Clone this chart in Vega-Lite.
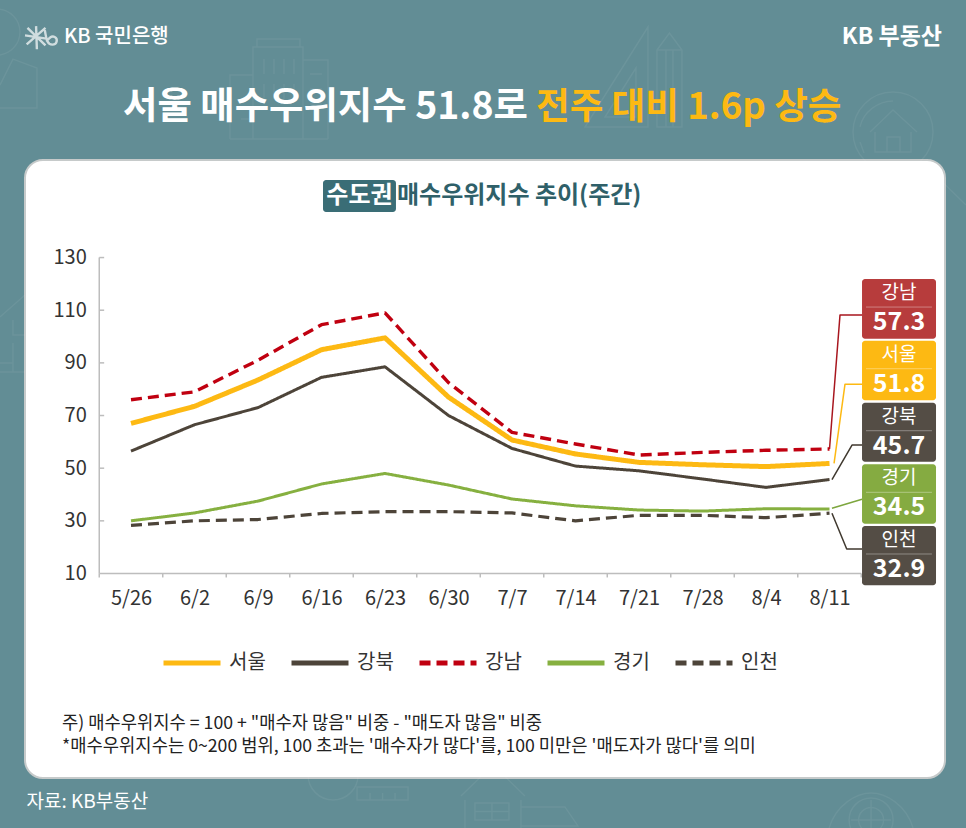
{
  "$schema": "https://vega.github.io/schema/vega-lite/v6.json",
  "description": "Weekly buyer superiority index for the Seoul metropolitan area.",
  "width": 920,
  "height": 618,
  "autosize": {"type": "none"},
  "padding": {"left": 25, "top": 160, "right": 21, "bottom": 50},
  "background": "#628d95",
  "view": {"fill": "#ffffff", "stroke": "#c6caca", "strokeWidth": 2, "cornerRadius": 18},
  "config": {"font": "Noto Sans CJK KR"},
  "datasets": {
    "weekly": [
      {"date": "2025-05-26T00:00", "region": "서울", "value": 67},
      {"date": "2025-06-02T00:00", "region": "서울", "value": 73.5},
      {"date": "2025-06-09T00:00", "region": "서울", "value": 83.5},
      {"date": "2025-06-16T00:00", "region": "서울", "value": 95},
      {"date": "2025-06-23T00:00", "region": "서울", "value": 99.5},
      {"date": "2025-06-30T00:00", "region": "서울", "value": 77},
      {"date": "2025-07-07T00:00", "region": "서울", "value": 60.7},
      {"date": "2025-07-14T00:00", "region": "서울", "value": 55.4},
      {"date": "2025-07-21T00:00", "region": "서울", "value": 52.2},
      {"date": "2025-07-28T00:00", "region": "서울", "value": 51.3},
      {"date": "2025-08-04T00:00", "region": "서울", "value": 50.6},
      {"date": "2025-08-11T00:00", "region": "서울", "value": 51.8},
      {"date": "2025-05-26T00:00", "region": "강북", "value": 56.5},
      {"date": "2025-06-02T00:00", "region": "강북", "value": 66.5},
      {"date": "2025-06-09T00:00", "region": "강북", "value": 73},
      {"date": "2025-06-16T00:00", "region": "강북", "value": 84.5},
      {"date": "2025-06-23T00:00", "region": "강북", "value": 88.5},
      {"date": "2025-06-30T00:00", "region": "강북", "value": 70},
      {"date": "2025-07-07T00:00", "region": "강북", "value": 57.5},
      {"date": "2025-07-14T00:00", "region": "강북", "value": 50.8},
      {"date": "2025-07-21T00:00", "region": "강북", "value": 49},
      {"date": "2025-07-28T00:00", "region": "강북", "value": 45.9},
      {"date": "2025-08-04T00:00", "region": "강북", "value": 42.7},
      {"date": "2025-08-11T00:00", "region": "강북", "value": 45.7},
      {"date": "2025-05-26T00:00", "region": "강남", "value": 76},
      {"date": "2025-06-02T00:00", "region": "강남", "value": 79},
      {"date": "2025-06-09T00:00", "region": "강남", "value": 91},
      {"date": "2025-06-16T00:00", "region": "강남", "value": 104.5},
      {"date": "2025-06-23T00:00", "region": "강남", "value": 109},
      {"date": "2025-06-30T00:00", "region": "강남", "value": 82.5},
      {"date": "2025-07-07T00:00", "region": "강남", "value": 63.6},
      {"date": "2025-07-14T00:00", "region": "강남", "value": 59.2},
      {"date": "2025-07-21T00:00", "region": "강남", "value": 55},
      {"date": "2025-07-28T00:00", "region": "강남", "value": 56},
      {"date": "2025-08-04T00:00", "region": "강남", "value": 56.8},
      {"date": "2025-08-11T00:00", "region": "강남", "value": 57.3},
      {"date": "2025-05-26T00:00", "region": "경기", "value": 30},
      {"date": "2025-06-02T00:00", "region": "경기", "value": 33},
      {"date": "2025-06-09T00:00", "region": "경기", "value": 37.5},
      {"date": "2025-06-16T00:00", "region": "경기", "value": 44},
      {"date": "2025-06-23T00:00", "region": "경기", "value": 48},
      {"date": "2025-06-30T00:00", "region": "경기", "value": 43.6},
      {"date": "2025-07-07T00:00", "region": "경기", "value": 38.3},
      {"date": "2025-07-14T00:00", "region": "경기", "value": 35.7},
      {"date": "2025-07-21T00:00", "region": "경기", "value": 34.1},
      {"date": "2025-07-28T00:00", "region": "경기", "value": 33.7},
      {"date": "2025-08-04T00:00", "region": "경기", "value": 34.6},
      {"date": "2025-08-11T00:00", "region": "경기", "value": 34.5},
      {"date": "2025-05-26T00:00", "region": "인천", "value": 28.3},
      {"date": "2025-06-02T00:00", "region": "인천", "value": 30},
      {"date": "2025-06-09T00:00", "region": "인천", "value": 30.5},
      {"date": "2025-06-16T00:00", "region": "인천", "value": 32.8},
      {"date": "2025-06-23T00:00", "region": "인천", "value": 33.5},
      {"date": "2025-06-30T00:00", "region": "인천", "value": 33.5},
      {"date": "2025-07-07T00:00", "region": "인천", "value": 33},
      {"date": "2025-07-14T00:00", "region": "인천", "value": 30},
      {"date": "2025-07-21T00:00", "region": "인천", "value": 32.1},
      {"date": "2025-07-28T00:00", "region": "인천", "value": 32.1},
      {"date": "2025-08-04T00:00", "region": "인천", "value": 31.2},
      {"date": "2025-08-11T00:00", "region": "인천", "value": 32.9}
    ],
    "leaders": [
      {"region": "강남", "step": 1, "date": "2025-08-11T00:00", "value": 57.3},
      {"region": "강남", "step": 2, "date": "2025-08-12T03:45", "value": 108.2},
      {"region": "강남", "step": 3, "date": "2025-08-14T14:00", "value": 108.2},
      {"region": "서울", "step": 1, "date": "2025-08-11T12:00", "value": 51.8},
      {"region": "서울", "step": 2, "date": "2025-08-12T17:00", "value": 81.9},
      {"region": "서울", "step": 3, "date": "2025-08-14T14:00", "value": 81.9},
      {"region": "강북", "step": 1, "date": "2025-08-11T06:30", "value": 45.7},
      {"region": "강북", "step": 2, "date": "2025-08-13T11:30", "value": 58.8},
      {"region": "강북", "step": 3, "date": "2025-08-14T14:00", "value": 58.8},
      {"region": "경기", "step": 1, "date": "2025-08-11T06:30", "value": 34.8},
      {"region": "경기", "step": 2, "date": "2025-08-14T14:00", "value": 38.2},
      {"region": "인천", "step": 1, "date": "2025-08-11T06:30", "value": 32.9},
      {"region": "인천", "step": 2, "date": "2025-08-12T21:30", "value": 19.3},
      {"region": "인천", "step": 3, "date": "2025-08-14T14:00", "value": 19.3}
    ],
    "calloutBoxes": [
      {"region": "강남", "date": "2025-08-14T14:00", "end": "2025-08-22T17:45", "value": 121.85, "value2": 99.18},
      {"region": "서울", "date": "2025-08-14T14:00", "end": "2025-08-22T17:45", "value": 98.42, "value2": 75.78},
      {"region": "강북", "date": "2025-08-14T14:00", "end": "2025-08-22T17:45", "value": 74.87, "value2": 52.46},
      {"region": "경기", "date": "2025-08-14T14:00", "end": "2025-08-22T17:45", "value": 51.47, "value2": 28.91},
      {"region": "인천", "date": "2025-08-14T14:00", "end": "2025-08-22T17:45", "value": 28.04, "value2": 5.52}
    ],
    "calloutRules": [
      {"date": "2025-08-15T00:30", "end": "2025-08-22T07:00", "value": 111.2, "value2": 111.2},
      {"date": "2025-08-15T00:30", "end": "2025-08-22T07:00", "value": 87.78, "value2": 87.78},
      {"date": "2025-08-15T00:30", "end": "2025-08-22T07:00", "value": 64.23, "value2": 64.23},
      {"date": "2025-08-15T00:30", "end": "2025-08-22T07:00", "value": 40.84, "value2": 40.84},
      {"date": "2025-08-15T00:30", "end": "2025-08-22T07:00", "value": 17.41, "value2": 17.41}
    ],
    "calloutNames": [
      {"date": "2025-08-18T16:00", "value": 116.5, "label": "강남"},
      {"date": "2025-08-18T16:00", "value": 93.1, "label": "서울"},
      {"date": "2025-08-18T16:00", "value": 69.55, "label": "강북"},
      {"date": "2025-08-18T16:00", "value": 46.16, "label": "경기"},
      {"date": "2025-08-18T16:00", "value": 22.72, "label": "인천"}
    ],
    "calloutValues": [
      {"date": "2025-08-18T16:00", "value": 105.5, "label": "57.3"},
      {"date": "2025-08-18T16:00", "value": 82.1, "label": "51.8"},
      {"date": "2025-08-18T16:00", "value": 58.54, "label": "45.7"},
      {"date": "2025-08-18T16:00", "value": 35.14, "label": "34.5"},
      {"date": "2025-08-18T16:00", "value": 11.7, "label": "32.9"}
    ],
    "frame": [
      {"date": "2025-05-22T12:00", "end": "2025-08-14T12:00", "value": 10, "value2": 10},
      {"date": "2025-05-22T12:00", "end": "2025-05-22T12:00", "value": 10, "value2": 130},
      {"date": "2025-05-22T12:00", "end": "2025-05-23T01:00", "value": 130, "value2": 130},
      {"date": "2025-05-22T12:00", "end": "2025-05-23T01:00", "value": 110, "value2": 110},
      {"date": "2025-05-22T12:00", "end": "2025-05-23T01:00", "value": 90, "value2": 90},
      {"date": "2025-05-22T12:00", "end": "2025-05-23T01:00", "value": 70, "value2": 70},
      {"date": "2025-05-22T12:00", "end": "2025-05-23T01:00", "value": 50, "value2": 50},
      {"date": "2025-05-22T12:00", "end": "2025-05-23T01:00", "value": 30, "value2": 30},
      {"date": "2025-05-22T12:00", "end": "2025-05-22T12:00", "value": 10, "value2": 8.5},
      {"date": "2025-05-29T12:00", "end": "2025-05-29T12:00", "value": 10, "value2": 8.5},
      {"date": "2025-06-05T12:00", "end": "2025-06-05T12:00", "value": 10, "value2": 8.5},
      {"date": "2025-06-12T12:00", "end": "2025-06-12T12:00", "value": 10, "value2": 8.5},
      {"date": "2025-06-19T12:00", "end": "2025-06-19T12:00", "value": 10, "value2": 8.5},
      {"date": "2025-06-26T12:00", "end": "2025-06-26T12:00", "value": 10, "value2": 8.5},
      {"date": "2025-07-03T12:00", "end": "2025-07-03T12:00", "value": 10, "value2": 8.5},
      {"date": "2025-07-10T12:00", "end": "2025-07-10T12:00", "value": 10, "value2": 8.5},
      {"date": "2025-07-17T12:00", "end": "2025-07-17T12:00", "value": 10, "value2": 8.5},
      {"date": "2025-07-24T12:00", "end": "2025-07-24T12:00", "value": 10, "value2": 8.5},
      {"date": "2025-07-31T12:00", "end": "2025-07-31T12:00", "value": 10, "value2": 8.5},
      {"date": "2025-08-07T12:00", "end": "2025-08-07T12:00", "value": 10, "value2": 8.5},
      {"date": "2025-08-14T12:00", "end": "2025-08-14T12:00", "value": 10, "value2": 8.5}
    ]
  },
  "encoding": {
    "x": {
      "field": "date",
      "type": "temporal",
      "scale": {"domain": [{"year": 2025, "month": 5, "date": 14, "hours": 7, "minutes": 34}, {"year": 2025, "month": 8, "date": 23, "hours": 17, "minutes": 32}], "nice": false},
      "axis": {
        "title": null,
        "offset": -204.5,
        "domain": false,
        "ticks": false,
        "grid": false,
        "labelPadding": 15,
        "labelFontSize": 20,
        "labelColor": "#333333",
        "labelFont": "Noto Sans CJK KR",
        "labelOverlap": false,
        "labelFlush": false,
        "format": "%-m/%-d",
        "values": [
          {"year": 2025, "month": 5, "date": 26},
          {"year": 2025, "month": 6, "date": 2},
          {"year": 2025, "month": 6, "date": 9},
          {"year": 2025, "month": 6, "date": 16},
          {"year": 2025, "month": 6, "date": 23},
          {"year": 2025, "month": 6, "date": 30},
          {"year": 2025, "month": 7, "date": 7},
          {"year": 2025, "month": 7, "date": 14},
          {"year": 2025, "month": 7, "date": 21},
          {"year": 2025, "month": 7, "date": 28},
          {"year": 2025, "month": 8, "date": 4},
          {"year": 2025, "month": 8, "date": 11}
        ]
      }
    },
    "y": {
      "field": "value",
      "type": "quantitative",
      "scale": {"domain": [-67.67, 167.05], "nice": false, "zero": false},
      "axis": {
        "title": null,
        "offset": -74.3,
        "domain": false,
        "ticks": false,
        "grid": false,
        "labelPadding": 13,
        "labelFontSize": 20,
        "labelColor": "#333333",
        "labelFont": "Noto Sans CJK KR",
        "labelOverlap": false,
        "labelFlush": false,
        "values": [10, 30, 50, 70, 90, 110, 130]
      }
    }
  },
  "layer": [
    {
      "data": {"values": [{"date": "2025-06-11T07:30", "value": 194}]},
      "mark": {"type": "point", "filled": false, "stroke": "#ffffff", "strokeOpacity": 0.09, "strokeWidth": 1.5, "size": 10000, "shape": "M-.52 1V-.84H.48V1M-.44 -.84V-1H.42V-.84M-.98 1V-.28H-.52M.48 -.58H.98V1M-.98 1H.98M-.3 -.6V-.3M-.1 -.6V-.3M.1 -.6V-.3M.3 -.6V-.3M-.3 -.1V.2M-.1 -.1V.2M.1 -.1V.2M.3 -.1V.2M-.76 .6H-.6M.62 -.3H.86M.62 0H.86M.62 .3H.86"}
    },
    {
      "data": {"values": [{"date": "2025-07-20T08:00", "value": 198.57}]},
      "mark": {"type": "point", "filled": false, "stroke": "#ffffff", "strokeOpacity": 0.09, "strokeWidth": 1.5, "size": 10000, "shape": "M.3 -1L-.96 1H.3ZM.06 -.18L-.56 .8H.06ZM.48 1V-.54L.73 -.88L.98 -.54V1ZM.48 -.54H.98M.66 -.54V1M.8 -.54V1"}
    },
    {
      "data": {"values": [{"date": "2025-08-18T00:00", "value": 177.7}]},
      "mark": {"type": "point", "filled": false, "stroke": "#ffffff", "strokeOpacity": 0.09, "strokeWidth": 1.5, "size": 10000, "shape": "M-.8 0A.8 .8 0 1 1 .8 0A.8 .8 0 1 1 -.8 0ZM-.46 0L0 -.44L.48 0M-.36 0V.4H.36V0M-.12 .4V.1H.14V.4M.56 .58L1.46 1.46M-.66 .2L-.58 .42M-.66 -.1C-.6 -.4 -.3 -.62 0 -.62"}
    },
    {
      "data": {"values": [{"date": "2025-05-13T05:00", "value": 205}]},
      "mark": {"type": "point", "filled": false, "stroke": "#ffffff", "strokeOpacity": 0.09, "strokeWidth": 1.5, "size": 10000, "shape": "M-.82 -.56A.46 .46 0 1 1 .1 -.56A.46 .46 0 1 1 -.82 -.56ZM-.3 .5L-.04 -.02L.44 .16V.96H-.3"}
    },
    {
      "data": {"values": [{"date": "2025-05-13T05:00", "value": 100.58}]},
      "mark": {"type": "point", "filled": false, "stroke": "#ffffff", "strokeOpacity": 0.09, "strokeWidth": 1.5, "size": 10000, "shape": "M-.3 -.36L.2 -.8M-.04 -.3V0H.2M-.04 .16V.74H.2M-.3 .56H-.04M-.3 .74H-.04"}
    },
    {
      "data": {"values": [{"date": "2025-07-07T21:00", "value": -76}]},
      "mark": {"type": "point", "filled": false, "stroke": "#ffffff", "strokeOpacity": 0.09, "strokeWidth": 1.5, "size": 10000, "shape": "M-1.18 -.08L-.54 -.7L.1 -.08M-1.1 0V.6M.02 0V.6M-.9 .06H-.22V.4H-.9ZM-.56 .06V.4M-.9 .23H-.22M.02 .14H.9L1.16 .52H.02"}
    },
    {
      "data": {"values": [{"date": "2025-06-20T06:00", "value": -72.2}]},
      "mark": {"type": "point", "filled": false, "stroke": "#ffffff", "strokeOpacity": 0.09, "strokeWidth": 1.5, "size": 10000, "shape": "M-1.04 -.3A.5 .5 0 1 1 -.04 -.3A.5 .5 0 1 1 -1.04 -.3ZM-.06 -.06H.96V.2H-.06ZM.2 .2V.06M.45 .2V.06M.7 .2V.06"}
    },
    {
      "data": {"values": [{"date": "2025-08-15T14:00", "value": -81.7}]},
      "mark": {"type": "point", "filled": false, "stroke": "#ffffff", "strokeOpacity": 0.09, "strokeWidth": 1.5, "size": 10000, "shape": "M-.25 .1A.25 .25 0 1 1 .25 .1A.25 .25 0 1 1 -.25 .1ZM-.44 .1A.44 .44 0 1 1 .44 .1A.44 .44 0 1 1 -.44 .1ZM-.84 .26C-.7 -.2 -.3 -.44 0 -.44C.3 -.44 .7 -.2 .84 .26M0 -.3V.5M-.4 .1H.4"}
    },
    {
      "data": {"values": [{"date": "2025-05-16T03:15", "value": 213.76}]},
      "mark": {"type": "point", "filled": false, "stroke": "#ffffff", "strokeWidth": 2.4, "size": 1089, "shape": "M-.33 -.66L-.28 .74M-1 -.1L.3 .1M-.85 -.55L.24 .5M.24 -.55L-.9 .45M.2 -.42C.3 .2 .36 .46 .66 .46C.96 .46 1 .1 .8 0C.6 -.1 .42 .1 .3 .28"}
    },
    {
      "data": {"values": [{"date": "2025-05-18T14:45", "value": 213.76, "label": "KB 국민은행"}]},
      "mark": {"type": "text", "align": "left", "baseline": "middle", "fontSize": 20, "fontWeight": 500, "color": "#ffffff"},
      "encoding": {"text": {"field": "label"}}
    },
    {
      "data": {"values": [{"date": "2025-08-23T09:40", "value": 213.76, "label": "KB 부동산"}]},
      "mark": {"type": "text", "align": "right", "baseline": "middle", "fontSize": 23, "fontWeight": 700, "color": "#ffffff"},
      "encoding": {"text": {"field": "label"}}
    },
    {
      "data": {"values": [{"date": "2025-07-08T18:00", "value": 186.8, "label": "서울 매수우위지수 51.8로"}]},
      "mark": {"type": "text", "align": "right", "baseline": "middle", "fontSize": 37.4, "fontWeight": 700, "color": "#ffffff"},
      "encoding": {"text": {"field": "label"}}
    },
    {
      "data": {"values": [{"date": "2025-07-09T15:30", "value": 186.8, "label": "전주 대비 1.6p 상승"}]},
      "mark": {"type": "text", "align": "left", "baseline": "middle", "fontSize": 36.6, "fontWeight": 700, "color": "#fdb913"},
      "encoding": {"text": {"field": "label"}}
    },
    {
      "data": {"values": [{"date": "2025-06-16T04:00", "end": "2025-06-24T05:00", "value": 159.45, "value2": 147.3}], "format": {"parse": {"date": "date", "end": "date"}}},
      "mark": {"type": "rect", "fill": "#3a6d76", "cornerRadius": 3},
      "encoding": {"x2": {"field": "end"}, "y2": {"field": "value2"}}
    },
    {
      "data": {"values": [{"date": "2025-06-20T04:30", "value": 153.4, "label": "수도권"}]},
      "mark": {"type": "text", "align": "center", "baseline": "middle", "fontSize": 24, "fontWeight": 700, "color": "#ffffff"},
      "encoding": {"text": {"field": "label"}}
    },
    {
      "data": {"values": [{"date": "2025-06-24T07:45", "value": 153.4, "label": "매수우위지수 추이(주간)"}]},
      "mark": {"type": "text", "align": "left", "baseline": "middle", "fontSize": 24, "fontWeight": 700, "color": "#2f6069"},
      "encoding": {"text": {"field": "label"}}
    },
    {
      "data": {"name": "frame", "format": {"parse": {"date": "date", "end": "date"}}},
      "mark": {"type": "rule", "color": "#bdbdbd", "strokeWidth": 1.5},
      "encoding": {"x2": {"field": "end"}, "y2": {"field": "value2"}}
    },
    {
      "data": {"name": "leaders"},
      "mark": {"type": "line", "strokeWidth": 1.5, "strokeJoin": "round"},
      "encoding": {
        "order": {"field": "step"},
        "stroke": {
          "field": "region",
          "type": "nominal",
          "scale": {
            "domain": ["강남", "서울", "강북", "경기", "인천"],
            "range": ["#a8161e", "#fdb913", "#40392f", "#7da63e", "#40392f"]
          },
          "legend": null
        }
      }
    },
    {
      "data": {"name": "weekly"},
      "mark": {"type": "line", "strokeJoin": "round"},
      "encoding": {
        "color": {
          "field": "region",
          "type": "nominal",
          "sort": null,
          "scale": {
            "domain": ["서울", "강북", "강남", "경기", "인천"],
            "range": ["#fdb913", "#4d4439", "#c00010", "#86b040", "#4d4439"]
          },
          "legend": {
            "orient": "none",
            "legendX": 136,
            "legendY": 472,
            "direction": "horizontal",
            "columns": 5,
            "title": null,
            "symbolType": "stroke",
            "symbolSize": 3249,
            "symbolStrokeWidth": 5,
            "labelFontSize": 20,
            "labelColor": "#333333",
            "labelOffset": 6,
            "columnPadding": 15,
            "padding": 0
          }
        },
        "strokeDash": {
          "field": "region",
          "type": "nominal",
          "sort": null,
          "scale": {
            "domain": ["서울", "강북", "강남", "경기", "인천"],
            "range": [[1, 0], [1, 0], [11, 6], [1, 0], [11, 6]]
          }
        },
        "strokeWidth": {
          "condition": [
            {"test": "datum.region === '서울'", "value": 5},
            {"test": "datum.region === '강남'", "value": 3.4},
            {"test": "datum.region === '인천'", "value": 3.2}
          ],
          "value": 3
        }
      }
    },
    {
      "data": {"name": "calloutBoxes", "format": {"parse": {"date": "date", "end": "date"}}},
      "mark": {"type": "rect", "cornerRadius": 3},
      "encoding": {
        "x2": {"field": "end"},
        "y2": {"field": "value2"},
        "fill": {
          "field": "region",
          "type": "nominal",
          "scale": {
            "domain": ["강남", "서울", "강북", "경기", "인천"],
            "range": ["#b73c3c", "#fdb913", "#544d45", "#85ab41", "#544d45"]
          },
          "legend": null
        }
      }
    },
    {
      "data": {"name": "calloutRules", "format": {"parse": {"date": "date", "end": "date"}}},
      "mark": {"type": "rule", "color": "#ffffff", "strokeOpacity": 0.35, "strokeWidth": 1},
      "encoding": {"x2": {"field": "end"}, "y2": {"field": "value2"}}
    },
    {
      "data": {"name": "calloutNames"},
      "mark": {"type": "text", "align": "center", "baseline": "middle", "fontSize": 19, "fontWeight": 400, "color": "#ffffff"},
      "encoding": {"text": {"field": "label"}}
    },
    {
      "data": {"name": "calloutValues"},
      "mark": {"type": "text", "align": "center", "baseline": "middle", "fontSize": 25, "fontWeight": 700, "color": "#ffffff"},
      "encoding": {"text": {"field": "label"}}
    },
    {
      "data": {"values": [
        {"date": "2025-05-18T09:30", "value": -47.16, "label": "주) 매수우위지수 = 100 + \"매수자 많음\" 비중 - \"매도자 많음\" 비중"},
        {"date": "2025-05-18T09:30", "value": -55.9, "label": "*매수우위지수는 0~200 범위, 100 초과는 '매수자가 많다'를, 100 미만은 '매도자가 많다'를 의미"}
      ]},
      "mark": {"type": "text", "align": "left", "baseline": "middle", "fontSize": 17.7, "color": "#222222"},
      "encoding": {"text": {"field": "label"}}
    },
    {
      "data": {"values": [{"date": "2025-05-14T11:30", "value": -76.8, "label": "자료: KB부동산"}]},
      "mark": {"type": "text", "align": "left", "baseline": "middle", "fontSize": 19, "color": "#ffffff"},
      "encoding": {"text": {"field": "label"}}
    }
  ]
}
